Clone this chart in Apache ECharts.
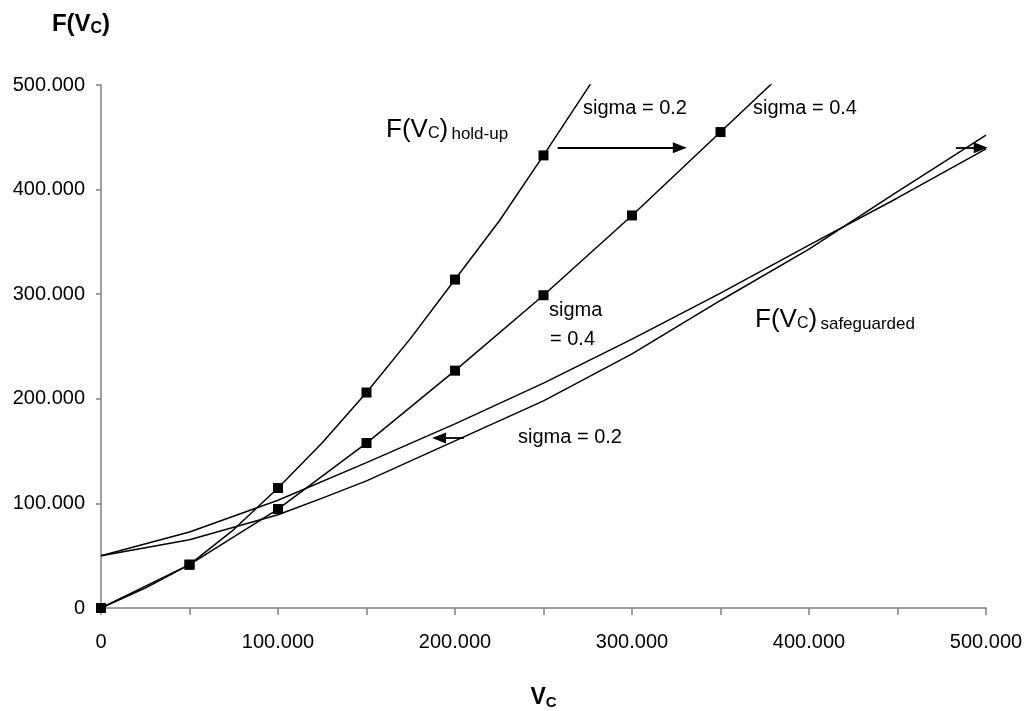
<!DOCTYPE html>
<html>
  <head>
    <title>F(Vc)</title>
    <style>
      html,
      body {
        height: 100%;
        margin: 0;
        padding: 0;
        background: #fff;
      }
      #chart-container {
        width: 1032px;
        height: 711px;
      }
    </style>
    <script src="https://cdn.jsdelivr.net/npm/echarts@6/dist/echarts.min.js"></script>
  </head>
  <body>
    <div id="chart-container"></div>

    <script>
      // 数据（单位：元，图上显示为千分位 "100.000"）
      var holdup02X = [0, 25000, 50000, 75000, 100000, 125000, 150000, 175000, 200000, 225000, 250000, 275000, 300000];
      var holdup02Y = [0, 19000, 41400, 75000, 114700, 158000, 206000, 258000, 314000, 370000, 432700, 497000, 560000];

      var holdup04X = [0, 50000, 100000, 150000, 200000, 250000, 300000, 350000, 400000];
      var holdup04Y = [0, 41400, 94600, 157700, 226900, 299000, 375300, 455000, 535000];

      var safeA_X = [0, 50000, 100000, 150000, 200000, 250000, 300000, 350000, 400000, 450000, 500000];
      var safeA_Y = [50000, 72700, 103000, 139000, 176000, 215000, 257000, 301000, 347000, 392000, 439000];

      var safeB_X = [0, 50000, 100000, 125000, 150000, 200000, 250000, 300000, 350000, 400000, 450000, 500000];
      var safeB_Y = [50000, 65300, 89200, 105000, 121500, 159800, 198000, 243000, 294000, 343000, 398000, 452000];

      // 箭头（数据坐标，终点为箭头三角形中心）
      var arrowHoldup = [[258000, 440000], [327000, 440000]];
      var arrowSigma = [[205000, 162500], [191000, 162500]];
      var arrowRight = [[483000, 440000], [497000, 440000]];

      function toData(xs, ys, marked) {
        return xs.map(function (x, i) {
          return {
            value: [x, ys[i]],
            symbol: marked && x % 50000 === 0 ? "rect" : "none",
          };
        });
      }

      function fmt(value) {
        return value === 0 ? "0" : (value / 1000).toFixed(3);
      }

      var lineStyle = { color: "#000", width: 1.5 };
      var font = "Liberation Sans, Arial, sans-serif";

      var rich = {
        big: { fontSize: 26, fontFamily: font, color: "#000" },
        sub: { fontSize: 16, fontFamily: font, color: "#000", padding: [8, 0, 0, 0] },
        small: { fontSize: 17, fontFamily: font, color: "#000", padding: [9, 0, 0, 0] },
      };

      var myChart = echarts.init(document.getElementById("chart-container"), null, {
        renderer: "canvas",
      });

      var option = {
        animation: false,
        grid: { left: 101, right: 46, top: 85, bottom: 103, outerBoundsMode: "none" },
        xAxis: {
          type: "value",
          min: 0,
          max: 500000,
          interval: 50000,
          name: "{b|V}{s|C}",
          nameLocation: "middle",
          nameGap: 78,
          nameTextStyle: {
            rich: {
              b: { fontSize: 23, fontWeight: "bold", fontFamily: font, color: "#000" },
              s: { fontSize: 15, fontWeight: "bold", fontFamily: font, color: "#000", padding: [9, 0, 0, 0] },
            },
          },
          splitLine: { show: false },
          axisLine: { lineStyle: { color: "#808080", width: 1.5 } },
          axisTick: { length: 7, lineStyle: { color: "#808080", width: 1.5 } },
          axisLabel: {
            margin: 24,
            fontSize: 20,
            fontFamily: font,
            color: "#000",
            formatter: function (value) {
              return value % 100000 === 0 ? fmt(value) : "";
            },
          },
        },
        yAxis: {
          type: "value",
          min: 0,
          max: 500000,
          interval: 100000,
          name: "{b|F(V}{s|C}{b|)}",
          nameLocation: "end",
          nameGap: 48,
          nameTextStyle: {
            align: "center",
            padding: [0, 40, 0, 0],
            rich: {
              b: { fontSize: 24, fontWeight: "bold", fontFamily: font, color: "#000" },
              s: { fontSize: 16, fontWeight: "bold", fontFamily: font, color: "#000", padding: [9, 0, 0, 0] },
            },
          },
          splitLine: { show: false },
          axisLine: { show: true, lineStyle: { color: "#808080", width: 1.5 } },
          axisTick: { show: true, length: 5, lineStyle: { color: "#808080", width: 1.5 } },
          axisLabel: {
            margin: 16,
            fontSize: 20,
            fontFamily: font,
            color: "#000",
            formatter: fmt,
          },
        },
        series: [
          {
            name: "hold-up sigma 0.2",
            type: "line",
            data: toData(holdup02X, holdup02Y, true),
            symbolSize: 10,
            itemStyle: { color: "#000" },
            lineStyle: lineStyle,
            markLine: {
              silent: true,
              symbol: ["none", "triangle"],
              symbolSize: [11, 14],
              label: { show: false },
              lineStyle: { color: "#000", width: 1.8, type: "solid" },
              data: [
                [{ coord: arrowHoldup[0] }, { coord: arrowHoldup[1] }],
                [{ coord: arrowSigma[0] }, { coord: arrowSigma[1] }],
                [{ coord: arrowRight[0] }, { coord: arrowRight[1] }],
              ],
            },
          },
          {
            name: "hold-up sigma 0.4",
            type: "line",
            data: toData(holdup04X, holdup04Y, true),
            symbolSize: 10,
            itemStyle: { color: "#000" },
            lineStyle: lineStyle,
          },
          {
            name: "safeguarded A",
            type: "line",
            data: toData(safeA_X, safeA_Y, false),
            showSymbol: false,
            lineStyle: lineStyle,
          },
          {
            name: "safeguarded B",
            type: "line",
            data: toData(safeB_X, safeB_Y, false),
            showSymbol: false,
            lineStyle: lineStyle,
          },
        ],
        graphic: [
          {
            type: "text",
            x: 386,
            y: 130,
            style: {
              text: "{big|F(V}{sub|C}{big|)} {small|hold-up}",
              rich: rich,
              verticalAlign: "middle",
            },
          },
          {
            type: "text",
            x: 755,
            y: 320,
            style: {
              text: "{big|F(V}{sub|C}{big|)} {small|safeguarded}",
              rich: rich,
              verticalAlign: "middle",
            },
          },
          {
            type: "text",
            x: 583,
            y: 108,
            style: { text: "sigma = 0.2", font: "20px " + font, fill: "#000", verticalAlign: "middle" },
          },
          {
            type: "text",
            x: 753,
            y: 108,
            style: { text: "sigma = 0.4", font: "20px " + font, fill: "#000", verticalAlign: "middle" },
          },
          {
            type: "text",
            x: 549,
            y: 310,
            style: { text: "sigma", font: "20px " + font, fill: "#000", verticalAlign: "middle" },
          },
          {
            type: "text",
            x: 550,
            y: 339,
            style: { text: "= 0.4", font: "20px " + font, fill: "#000", verticalAlign: "middle" },
          },
          {
            type: "text",
            x: 518,
            y: 437,
            style: { text: "sigma = 0.2", font: "20px " + font, fill: "#000", verticalAlign: "middle" },
          },
        ],
      };

      myChart.setOption(option);
    </script>
  </body>
</html>
